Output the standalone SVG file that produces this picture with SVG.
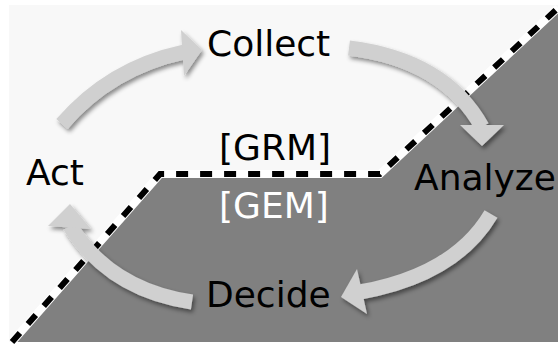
<svg xmlns="http://www.w3.org/2000/svg" width="558" height="345" viewBox="0 0 558 345">
  <style>
    .lbl { font-family: "DejaVu Sans", "Liberation Sans", sans-serif; font-size: 36px; fill: #000; }
    .inv { fill: #fff; }
    .shaft { fill: none; stroke: #d0d0d0; stroke-width: 15; stroke-linecap: butt; }
    .head { fill: #d0d0d0; }
    .border-under { fill: none; stroke: #fff; stroke-width: 8; stroke-linejoin: miter; }
    .border { fill: none; stroke: #000; stroke-width: 6; stroke-dasharray: 12 12; stroke-linejoin: miter; }
  </style>
  <defs>
    <filter id="shadow" x="-20%" y="-20%" width="140%" height="140%">
      <feDropShadow dx="2" dy="3" stdDeviation="2" flood-color="#000" flood-opacity="0.45"/>
    </filter>
  </defs>

  <!-- panels -->
  <rect x="9" y="5" width="549" height="337" fill="#f8f8f8"/>
  <polygon points="12,342 160,174 380,174 558,8 558,342" fill="#808080"/>
  <g id="boundary">
    <polyline class="border-under" points="12,342 160,174 380,174 558,8"/>
    <polyline class="border" points="12,342 160,174 380,174 558,8"/>
  </g>

  <!-- cycle arrows -->
  <g id="connectors" filter="url(#shadow)">
    <g id="act-collect">
      <path class="shaft" d="M62,124 Q110,68 184,52"/>
      <polygon class="head" points="181,30 202,50 184,76"/>
    </g>
    <g id="collect-analyze">
      <path class="shaft" d="M349,48 Q445,60 482,127"/>
      <polygon class="head" points="460,125 504,125 482,146"/>
    </g>
    <g id="analyze-decide">
      <path class="shaft" d="M491,214 Q455,275 360,292"/>
      <polygon class="head" points="357,269 341,297 367,314"/>
    </g>
    <g id="decide-act">
      <path class="shaft" d="M192,302 Q110,290 70,226"/>
      <polygon class="head" points="48,226 70,204 91,229"/>
    </g>
  </g>

  <!-- stage labels -->
  <g id="collect"><text class="lbl" x="207" y="56">Collect</text></g>
  <g id="analyze"><text class="lbl" x="414" y="190">Analyze</text></g>
  <g id="decide"><text class="lbl" x="206" y="307">Decide</text></g>
  <g id="act"><text class="lbl" x="26" y="185">Act</text></g>
  <g id="grm"><text class="lbl" x="219" y="160">[GRM]</text></g>
  <g id="gem"><text class="lbl inv" x="219" y="218">[GEM]</text></g>
</svg>
